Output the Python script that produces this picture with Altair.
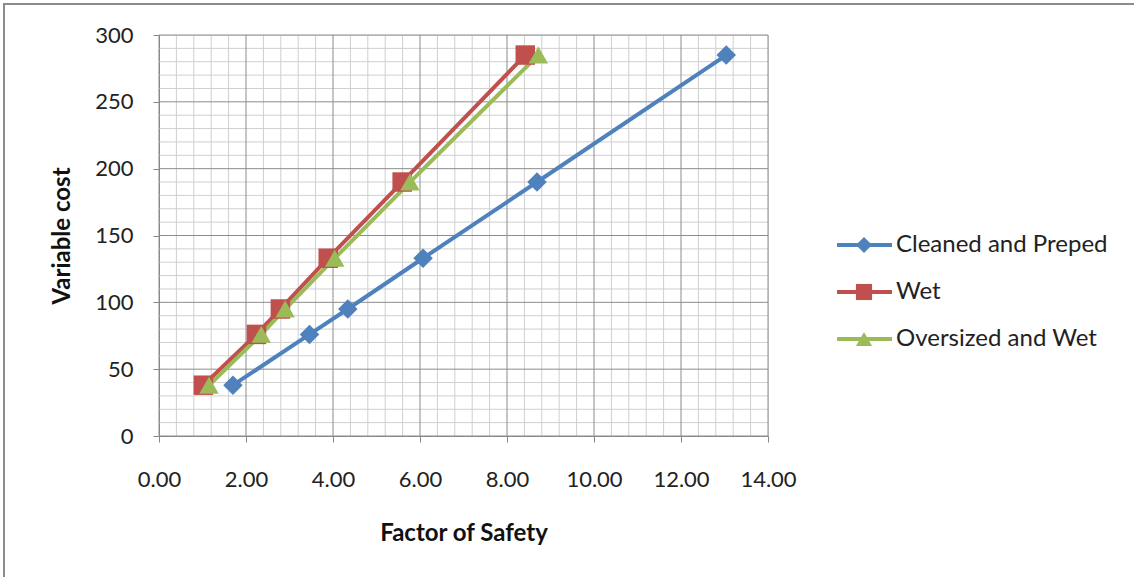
import altair as alt
import pandas as pd
import numpy as np

series = ["Cleaned and Preped", "Wet", "Oversized and Wet"]
cost = [38, 76, 95, 133, 190, 285]
fos_clean = [1.70, 3.46, 4.34, 6.07, 8.69, 13.04]
fos_wet = [1.02, 2.24, 2.79, 3.89, 5.59, 8.42]
fos_over = [1.15, 2.35, 2.90, 4.04, 5.77, 8.72]
colors = ["#4F81BD", "#C0504D", "#9BBB59"]
shapes = ["diamond", "square", "triangle-up"]
x_ticks = [0, 2, 4, 6, 8, 10, 12, 14]
y_ticks = [0, 50, 100, 150, 200, 250, 300]
x_minor = [round(v, 1) for v in np.arange(0, 14.01, 0.4) if abs(v / 2 - round(v / 2)) > 1e-6]
y_minor = [v for v in range(0, 301, 10) if v % 50 != 0]

W, H = 609, 401
FONT = "Lato"

rows = []
for name, xs_ in zip(series, [fos_clean, fos_wet, fos_over]):
    for xv, yv in zip(xs_, cost):
        rows.append({"series": name, "fos": xv, "cost": yv})
df = pd.DataFrame(rows)

xs = alt.Scale(domain=[0, 14], nice=False, zero=True)
ys = alt.Scale(domain=[0, 300], nice=False, zero=True)
cs = alt.Scale(domain=series, range=colors)
ss = alt.Scale(domain=series, range=shapes)

x_axis = alt.Axis(values=x_ticks, format=".2f", grid=False, tickSize=6, labelPadding=27,
                  labelFontSize=22, labelColor="#222", tickColor="#868686", domainColor="#868686",
                  title="Factor of Safety", titleFontSize=24, titleFontWeight="bold", titleColor="#111",
                  titleY=97, titleBaseline="middle", labelFlush=False)
y_axis = alt.Axis(values=y_ticks, grid=False, tickSize=6, labelPadding=20,
                  labelFontSize=22, labelColor="#222", tickColor="#868686", domainColor="#868686",
                  title="Variable cost", titleFontSize=24, titleFontWeight="bold", titleColor="#111",
                  titleX=-97, titleBaseline="middle", labelFlush=False)

minor_x = alt.Chart(pd.DataFrame({"v": x_minor})).mark_rule(color="#cfcfcf", strokeWidth=1).encode(
    x=alt.X("v:Q", scale=xs, axis=x_axis))
minor_y = alt.Chart(pd.DataFrame({"v": y_minor})).mark_rule(color="#cfcfcf", strokeWidth=1).encode(
    y=alt.Y("v:Q", scale=ys, axis=y_axis))
major_x = alt.Chart(pd.DataFrame({"v": x_ticks})).mark_rule(color="#8c8c8c", strokeWidth=1).encode(
    x=alt.X("v:Q", scale=xs, axis=x_axis))
major_y = alt.Chart(pd.DataFrame({"v": y_ticks})).mark_rule(color="#8c8c8c", strokeWidth=1).encode(
    y=alt.Y("v:Q", scale=ys, axis=y_axis))

lines = alt.Chart(df).mark_line(strokeWidth=4).encode(
    x=alt.X("fos:Q", scale=xs, axis=x_axis),
    y=alt.Y("cost:Q", scale=ys, axis=y_axis),
    color=alt.Color("series:N", scale=cs, legend=None),
    detail="series:N",
)
points = alt.Chart(df).mark_point(filled=True, opacity=1, size=380).encode(
    x=alt.X("fos:Q", scale=xs, axis=x_axis),
    y=alt.Y("cost:Q", scale=ys, axis=y_axis),
    color=alt.Color("series:N", scale=cs, legend=None),
    shape=alt.Shape("series:N", scale=ss, legend=None),
)

main = alt.layer(minor_x, minor_y, major_x, major_y, lines, points)

leg_df = pd.DataFrame({"series": series, "idx": [0, 1, 2]})
ly = alt.Scale(domain=[0, 2], range=[210, 304], nice=False, zero=False)
leg_rule = alt.Chart(leg_df).mark_rule(strokeWidth=4).encode(
    x=alt.value(678), x2=alt.value(733),
    y=alt.Y("idx:Q", scale=ly, axis=None),
    color=alt.Color("series:N", scale=cs, legend=None),
)
leg_pt = alt.Chart(leg_df).mark_point(filled=True, opacity=1, size=260).encode(
    x=alt.value(705),
    y=alt.Y("idx:Q", scale=ly, axis=None),
    color=alt.Color("series:N", scale=cs, legend=None),
    shape=alt.Shape("series:N", scale=ss, legend=None),
)
leg_txt = alt.Chart(leg_df).mark_text(align="left", baseline="middle", fontSize=24, color="#222", font=FONT).encode(
    x=alt.value(737),
    y=alt.Y("idx:Q", scale=ly, axis=None),
    text="series:N",
)
legend = alt.layer(leg_rule, leg_pt, leg_txt)

border = alt.Chart(pd.DataFrame({"a": [0]})).mark_rect(fill=None, fillOpacity=0, stroke="#8c8c8c", strokeWidth=2).encode(
    x=alt.value(-155), x2=alt.value(1000), y=alt.value(-31), y2=alt.value(700))

chart = alt.layer(border, main, legend).resolve_scale(y="independent").properties(
    width=W, height=H,
    autosize=alt.AutoSizeParams(type="none"),
    padding={"left": 159, "top": 35, "right": 366, "bottom": 141},
    background="white",
).configure_view(stroke=None).configure(font=FONT)

chart.save("out.html", embed_options={"renderer": "svg", "actions": False})
